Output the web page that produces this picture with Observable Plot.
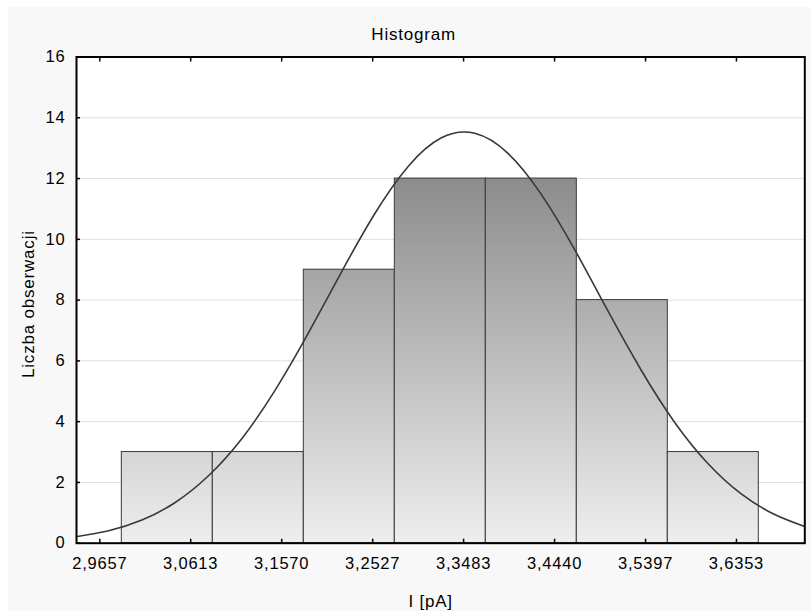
<!DOCTYPE html>
<html><head><meta charset="utf-8">
<script src="https://cdn.jsdelivr.net/npm/d3@7"></script>
<script src="https://cdn.jsdelivr.net/npm/@observablehq/plot@0.6"></script>
<style>
html,body{margin:0;padding:0;background:#fff;}
#wrap{position:relative;width:811px;height:611px;overflow:hidden;}
#bg{position:absolute;left:8px;top:7px;right:0;bottom:0;background:#f8f8f8;}
#chart{position:absolute;left:0;top:0;}
</style></head><body>
<div id="wrap"><div id="bg"></div><div id="chart"></div></div>
<script>
// Histogram bins
const binStarts = [2.98884, 3.08455, 3.18026, 3.27597, 3.37168, 3.46739, 3.56310];
const binEnds   = [3.08455, 3.18026, 3.27597, 3.37168, 3.46739, 3.56310, 3.65881];
const counts    = [3, 3, 9, 12, 12, 8, 3];

// Axis ticks
const xTicks = [2.9657, 3.0613, 3.1570, 3.2527, 3.3483, 3.4440, 3.5397, 3.6353];
const xTickLabels = ["2,9657", "3,0613", "3,1570", "3,2527", "3,3483", "3,4440", "3,5397", "3,6353"];
const yTicks = [0, 2, 4, 6, 8, 10, 12, 14, 16];
const yGrid = [2, 4, 6, 8, 10, 12, 14];

// Fitted curve, points
const curveX = [2.940, 2.975, 3.010, 3.045, 3.080, 3.115, 3.150, 3.185, 3.220, 3.255, 3.290, 3.325, 3.360, 3.395, 3.430, 3.465, 3.500, 3.535, 3.570, 3.605, 3.640, 3.675, 3.707];
const curveY = [0.21, 0.41, 0.76, 1.34, 2.22, 3.44, 5.03, 6.91, 8.93, 10.85, 12.40, 13.34, 13.49, 12.83, 11.48, 9.67, 7.65, 5.70, 3.99, 2.63, 1.63, 0.95, 0.55];

const bars = counts.map((c, i) => ({x1: binStarts[i], x2: binEnds[i], y: c}));
const curve = curveX.map((x, i) => ({x, y: curveY[i]}));

const font = "'Liberation Sans', Arial, sans-serif";

const chart = Plot.plot({
  width: 811,
  height: 611,
  marginLeft: 76,
  marginRight: 6.7,
  marginTop: 56.5,
  marginBottom: 68.3,
  style: {fontFamily: font, fontSize: "16.5px", background: "transparent", color: "black", letterSpacing: "0.8px", overflow: "visible"},
  x: {domain: [2.94119, 3.70718], axis: null},
  y: {domain: [0, 16], axis: null},
  marks: [
    Plot.frame({fill: "white", stroke: null}),
    Plot.ruleY(yGrid, {stroke: "#dedede", strokeWidth: 1}),
    Plot.rectY(bars, {x1: "x1", x2: "x2", y: "y", fill: "url(#barGrad)", stroke: "#3a3a3a", strokeWidth: 1}),
    Plot.line(curve, {x: "x", y: "y", curve: "natural", stroke: "#383838", strokeWidth: 1.6, clip: true}),
    Plot.frame({stroke: "black", strokeWidth: 2}),
    Plot.axisX({ticks: xTicks, tickSize: -4, fill: "none", label: null, strokeWidth: 1.5}),
    Plot.axisX({anchor: "top", ticks: xTicks, tickSize: -4, fill: "none", label: null, strokeWidth: 1.5}),
    Plot.axisX({ticks: xTicks, tickSize: 0, tickPadding: 14.5, label: null, tickFormat: d => xTickLabels[xTicks.indexOf(d)]}),
    Plot.axisY({ticks: yTicks, tickSize: -4, fill: "none", label: null, strokeWidth: 1.5}),
    Plot.axisY({ticks: yTicks, tickSize: 0, tickPadding: 11, label: null}),
    Plot.text(["Histogram"], {text: d => d, frameAnchor: "top", dx: -27, dy: -17.5, lineAnchor: "bottom", fontSize: 17}),
    Plot.text(["Liczba obserwacji"], {text: d => d, frameAnchor: "left", dx: -43, dy: 4, rotate: -90, lineAnchor: "bottom", textAnchor: "middle", fontSize: 17, letterSpacing: "1.1px"}),
    Plot.text(["I [pA]"], {text: d => d, frameAnchor: "bottom", dx: -10, dy: 63.3, lineAnchor: "bottom", fontSize: 17})
  ]
});

// gradient for bar fill, spanning from the top of the tallest bar to the baseline
const ys = chart.scale("y");
const ns = "http://www.w3.org/2000/svg";
const defs = document.createElementNS(ns, "defs");
const grad = document.createElementNS(ns, "linearGradient");
grad.setAttribute("id", "barGrad");
grad.setAttribute("gradientUnits", "userSpaceOnUse");
grad.setAttribute("x1", "0"); grad.setAttribute("x2", "0");
grad.setAttribute("y1", ys.apply(d3.max(counts)));
grad.setAttribute("y2", ys.apply(0));
[["0", "#8c8c8c"], ["1", "#eeeeee"]].forEach(([o, c]) => {
  const s = document.createElementNS(ns, "stop");
  s.setAttribute("offset", o); s.setAttribute("stop-color", c);
  grad.appendChild(s);
});
defs.appendChild(grad);
chart.insertBefore(defs, chart.firstChild);

document.getElementById("chart").appendChild(chart);
</script>
</body></html>
